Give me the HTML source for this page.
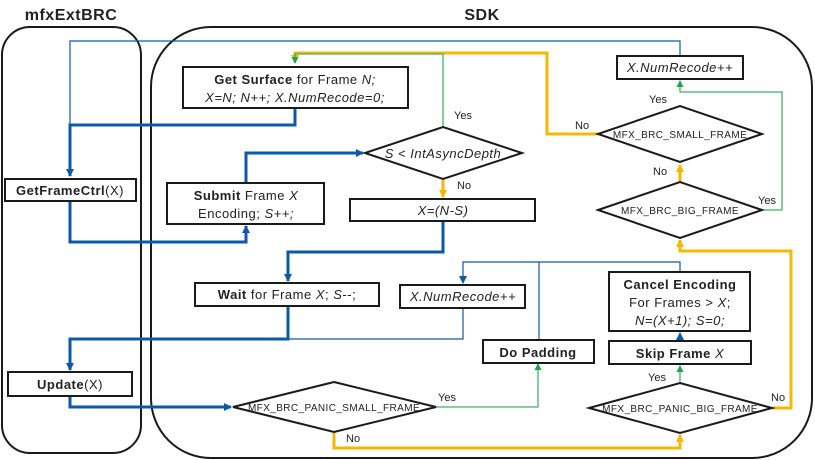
<!DOCTYPE html>
<html><head><meta charset="utf-8"><style>
html,body{margin:0;padding:0;background:#fff;}
svg{display:block;font-family:"Liberation Sans",sans-serif;}
.b{font-weight:bold;}
.i{font-style:italic;}
</style></head><body>
<svg width="815" height="460" viewBox="0 0 815 460" xmlns="http://www.w3.org/2000/svg">
<defs>
<marker id="ab" markerWidth="8" markerHeight="8" refX="7" refY="4" orient="auto" markerUnits="userSpaceOnUse"><path d="M0,0 L8,4 L0,8 z" fill="#0b5aa8"/></marker>
<marker id="ay" markerWidth="8" markerHeight="8" refX="7" refY="4" orient="auto" markerUnits="userSpaceOnUse"><path d="M0,0 L8,4 L0,8 z" fill="#f9b800"/></marker>
<marker id="ag" markerWidth="7" markerHeight="7" refX="6" refY="3.5" orient="auto" markerUnits="userSpaceOnUse"><path d="M0,0 L7,3.5 L0,7 z" fill="#1aa84a"/></marker>
</defs>
<rect x="2" y="27" width="139" height="426" rx="28" fill="none" stroke="#1a1a1a" stroke-width="2"/>
<rect x="151" y="27" width="661" height="431" rx="60" fill="none" stroke="#1a1a1a" stroke-width="2"/>
<text x="71" y="20" text-anchor="middle" font-size="16" letter-spacing="0.5" class="b" fill="#222">mfxExtBRC</text>
<text x="482" y="20" text-anchor="middle" font-size="16" letter-spacing="0.5" class="b" fill="#222">SDK</text>

<g fill="none" stroke="#0b5aa8" stroke-width="1.2">
<path d="M680,56 V41 H70 V125"/>
<path d="M288,339 H463 V308"/>
<path d="M680,272 V262 H463 V283" marker-end="url(#ab)"/>
<path d="M539,340 V262"/>
<path d="M680,341 V333" marker-end="url(#ab)"/>
</g>
<g fill="none" stroke="#0b5aa8" stroke-width="3">
<path d="M295,108 V125 H70 V176" marker-end="url(#ab)"/>
<path d="M70,201 V242 H246 V226" marker-end="url(#ab)"/>
<path d="M246,183 V153 H363" marker-end="url(#ab)"/>
<path d="M443,221 V252 H288 V281" marker-end="url(#ab)"/>
<path d="M288,306 V339 H70 V370" marker-end="url(#ab)"/>
<path d="M70,396 V407 H231" marker-end="url(#ab)"/>
</g>
<g fill="none" stroke="#f9b800" stroke-width="3">
<path d="M598,134 H547 V53 H295 V62" marker-end="url(#ay)"/>
<path d="M443,179 V197" marker-end="url(#ay)"/>
<path d="M680,182 V165" marker-end="url(#ay)"/>
<path d="M334,432 V448 H680 V435" marker-end="url(#ay)"/>
<path d="M772,408 H791 V251 H680 V240" marker-end="url(#ay)"/>
</g>
<g fill="none" stroke="#3cb566" stroke-width="1.3">
<path d="M443,127 V54 H295 V63" marker-end="url(#ag)"/>
<path d="M436,407 H538 V364" marker-end="url(#ag)"/>
<path d="M680,383 V366" marker-end="url(#ag)"/>
<path d="M762,210 H782 V92 H680 V81" marker-end="url(#ag)"/>
</g>

<g fill="#fff" stroke="#1a1a1a" stroke-width="2">
<rect x="183" y="67" width="225" height="41"/>
<rect x="5" y="179" width="131" height="22"/>
<rect x="167" y="183" width="157" height="41"/>
<rect x="350" y="199" width="185" height="22"/>
<rect x="195" y="283" width="184" height="23"/>
<rect x="400" y="285" width="125" height="23"/>
<rect x="8" y="372" width="124" height="24"/>
<rect x="483" y="340" width="111" height="23"/>
<rect x="609" y="272" width="141" height="59"/>
<rect x="609" y="341" width="142" height="23"/>
<rect x="617" y="56" width="126" height="23"/>
<polygon points="365,153 443,127 522,153 443,179"/>
<polygon points="598,134 680,106 762,134 680,162"/>
<polygon points="598,210 680,182 762,210 680,238"/>
<polygon points="233,407 334,382 436,407 334,432"/>
<polygon points="589,408 680,383 772,408 680,433"/>
</g>

<g fill="#222" font-size="13" letter-spacing="0.5" text-anchor="middle">
<text x="295" y="84"><tspan class="b">Get Surface</tspan> for Frame <tspan class="i">N;</tspan></text>
<text x="295" y="102" class="i">X=N; N++; X.NumRecode=0;</text>
<text x="70" y="195"><tspan class="b">GetFrameCtrl</tspan>(X)</text>
<text x="246" y="200"><tspan class="b">Submit</tspan> Frame <tspan class="i">X</tspan></text>
<text x="246" y="218">Encoding; <tspan class="i">S++;</tspan></text>
<text x="443" y="158" class="i">S &lt; IntAsyncDepth</text>
<text x="443" y="215" class="i">X=(N-S)</text>
<text x="287" y="299"><tspan class="b">Wait</tspan> for Frame <tspan class="i">X</tspan>; <tspan class="i">S</tspan>--;</text>
<text x="463" y="301" class="i">X.NumRecode++</text>
<text x="70" y="389"><tspan class="b">Update</tspan>(X)</text>
<text x="538" y="357" class="b">Do Padding</text>
<text x="680" y="289" class="b">Cancel Encoding</text>
<text x="680" y="307">For Frames &gt; <tspan class="i">X</tspan>;</text>
<text x="680" y="325" class="i">N=(X+1); S=0;</text>
<text x="680" y="358"><tspan class="b">Skip Frame</tspan> <tspan class="i">X</tspan></text>
<text x="680" y="72" class="i">X.NumRecode++</text>
</g>
<g fill="#222" font-size="10" letter-spacing="0.4" text-anchor="middle">
<text x="680" y="138">MFX_BRC_SMALL_FRAME</text>
<text x="680" y="214">MFX_BRC_BIG_FRAME</text>
<text x="334" y="411">MFX_BRC_PANIC_SMALL_FRAME</text>
<text x="680" y="412">MFX_BRC_PANIC_BIG_FRAME</text>
</g>
<g fill="#222" font-size="11">
<text x="454" y="119">Yes</text>
<text x="457" y="189">No</text>
<text x="649" y="103">Yes</text>
<text x="575" y="129">No</text>
<text x="653" y="175">No</text>
<text x="758" y="204">Yes</text>
<text x="438" y="401">Yes</text>
<text x="346" y="442">No</text>
<text x="648" y="381">Yes</text>
<text x="771" y="401">No</text>
</g>
</svg>
</body></html>
